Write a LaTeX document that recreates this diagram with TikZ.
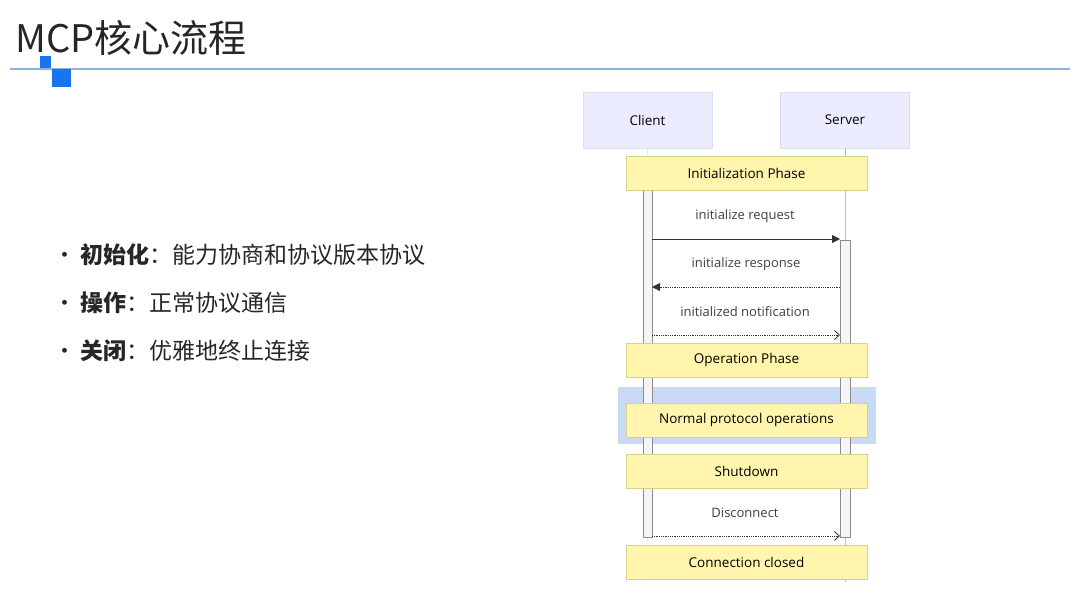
\documentclass[tikz,border=0pt]{standalone}
\usepackage{fontspec}
\setmainfont{Open Sans}
\newfontfamily\cjk{Noto Sans CJK SC}
\usetikzlibrary{arrows.meta}
\definecolor{actorfill}{HTML}{ECECFF}
\definecolor{actorline}{HTML}{DCDCF5}
\definecolor{notefill}{HTML}{FFF5AD}
\definecolor{noteline}{HTML}{D6D08A}
\definecolor{rulecol}{HTML}{8FB0E3}
\definecolor{squarecol}{HTML}{1A73F0}
\definecolor{hlfill}{HTML}{C9DAF5}
\tikzset{
	actor/.style = {draw=actorline, fill=actorfill, minimum width=129, minimum height=56, font=\fontsize{13.5}{16}\selectfont},
	note/.style  = {draw=noteline, fill=notefill, minimum width=241, minimum height=34, font=\fontsize{13.5}{16}\selectfont},
	msg/.style   = {font=\fontsize{13}{15}\selectfont, text=black!75},
	bullet/.style = {anchor=west, font=\cjk\fontsize{23}{27}\selectfont, text=black!85},
}
\begin{document}
\begin{tikzpicture}[x=1pt, y=-1pt, >={Triangle[length=8pt,width=8pt]}]
    \useasboundingbox (0,0) rectangle (1080,608);
    %Title and rule:
    \node[anchor=west, font=\cjk\fontsize{38}{44}\selectfont, text=black!85] (title) at (12,38) {MCP核心流程};
    \draw[rulecol, line width=1.2] (10,69) -- (1070,69);
    \fill[squarecol] (40,56) rectangle (51,68);
    \fill[squarecol] (52,69) rectangle (71,87);
    %Bullets:
    \node[bullet] (b1) at (50,255) {•\,\textbf{初始化}：能力协商和协议版本协议};
    \node[bullet] (b2) at (50,303) {•\,\textbf{操作}：正常协议通信};
    \node[bullet] (b3) at (50,351) {•\,\textbf{关闭}：优雅地终止连接};
    %Highlight:
    \fill[hlfill] (618,387) rectangle (876,444);
    %Actors and lifelines:
    \node[actor] (client) at (647.5,120) {Client};
    \node[actor] (server) at (845,120) {Server};
    \coordinate (clientend) at (647,582);
    \coordinate (serverend) at (845,582);
    \draw[black!25] (client) -- (clientend);
    \draw[black!25] (server) -- (serverend);
    %Activations:
    \draw[black!45, fill=black!4] (643,190) rectangle (652,537);
    \draw[black!45, fill=black!4] (840,240) rectangle (850,537);
    %Notes:
    \node[note] (init) at (746.5,173) {Initialization Phase};
    \node[note] (oper) at (746.5,360) {Operation Phase};
    \node[note] (normal) at (746.5,420) {Normal protocol operations};
    \node[note] (shut) at (746.5,471) {Shutdown};
    \node[note] (closed) at (746.5,562) {Connection closed};
    %Messages:
    \coordinate (c1) at (652,239); \coordinate (s1) at (840,239);
    \coordinate (c2) at (652,287); \coordinate (s2) at (840,287);
    \coordinate (c3) at (652,335); \coordinate (s3) at (840,335);
    \coordinate (c4) at (652,536); \coordinate (s4) at (840,536);
    \draw[->, black!80, line width=0.8] (c1) -- (s1);
    \draw[->, black!80, densely dotted, line width=0.8] (s2) -- (c2);
    \draw[-{Straight Barb[length=5pt,width=9pt]}, black!80, densely dotted, line width=0.8] (c3) -- (s3);
    \draw[-{Straight Barb[length=5pt,width=9pt]}, black!80, densely dotted, line width=0.8] (c4) -- (s4);
    \node[msg] (m1) at (745,216) {initialize request};
    \node[msg] (m2) at (746,264) {initialize response};
    \node[msg] (m3) at (745,312) {initialized notification};
    \node[msg] (m4) at (745,513) {Disconnect};
\end{tikzpicture}
\end{document}
